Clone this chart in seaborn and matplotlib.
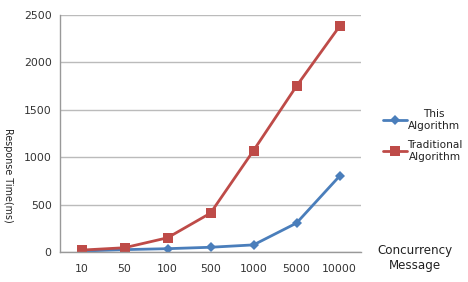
import matplotlib
matplotlib.use("Agg")
import matplotlib.pyplot as plt
import seaborn as sns
import pandas as pd

categories = ["10", "50", "100", "500", "1000", "5000", "10000"]
this_algo = [10, 25, 35, 50, 75, 305, 800]
trad_algo = [20, 45, 150, 410, 1070, 1750, 2380]
series_names = ["This\nAlgorithm", "Traditional\nAlgorithm"]
y_ticks = [0, 500, 1000, 1500, 2000, 2500]

sns.set_theme(style="white")
plt.rcParams['font.family'] = ['DejaVu Sans']

df = pd.DataFrame({
    "idx": list(range(len(categories))) * 2,
    "value": this_algo + trad_algo,
    "series": [series_names[0]] * len(categories) + [series_names[1]] * len(categories),
})

fig = plt.figure(figsize=(4.68, 2.82), dpi=100)
ax = fig.add_axes([60/468, 30/282, 301/468, 237/282])

palette = {series_names[0]: "#4A7EBB", series_names[1]: "#BE4B48"}
markers = {series_names[0]: "D", series_names[1]: "s"}
sns.lineplot(data=df, x="idx", y="value", hue="series", style="series",
             markers=markers, dashes=False, palette=palette, ax=ax,
             linewidth=2, markeredgewidth=0, legend=False)
for line, ms in zip(ax.get_lines(), [5, 7]):
    line.set_markersize(ms)

ax.set_xlim(-0.5, len(categories) - 0.5)
ax.set_ylim(0, 2500)
ax.set_yticks(y_ticks)
ax.set_xticks(range(len(categories)))
ax.set_xticklabels(categories)
ax.set_xticks([i - 0.5 for i in range(len(categories) + 1)], minor=True)
ax.tick_params(axis="x", which="major", length=0, pad=9, labelsize=7.8, colors="#333333")
ax.tick_params(axis="x", which="minor", length=4, width=0.8, color="#888888", direction="out")
ax.tick_params(axis="y", length=3, width=0.8, color="#888888", labelsize=7.8, colors="#333333", pad=3)
ax.grid(axis="y", color="#BBBBBB", linewidth=1)
ax.set_axisbelow(True)
for s in ["top", "right"]:
    ax.spines[s].set_visible(False)
for s in ["left", "bottom"]:
    ax.spines[s].set_color("#999999")
    ax.spines[s].set_linewidth(1)
ax.set_xlabel("")
ax.set_ylabel("")

fig.text(8/468, 1 - 175/282, "Response Time(ms)", rotation=270, ha="center", va="center",
         fontsize=6.9, color="#222222")
fig.text(415/468, 1 - 258/282, "Concurrency\nMessage", ha="center", va="center",
         fontsize=8.6, color="#222222", linespacing=1.2)

handles = ax.get_lines()[:2]
leg = fig.legend(handles, series_names, loc="upper left", bbox_to_anchor=(378/468, 1 - 104/282),
                 frameon=False, fontsize=7.6, handlelength=2.2, handletextpad=0.1,
                 labelspacing=0.9, borderpad=0)
for t in leg.get_texts():
    t.set_multialignment("center")
    t.set_color("#222222")

fig.savefig("out.png", dpi=100)
